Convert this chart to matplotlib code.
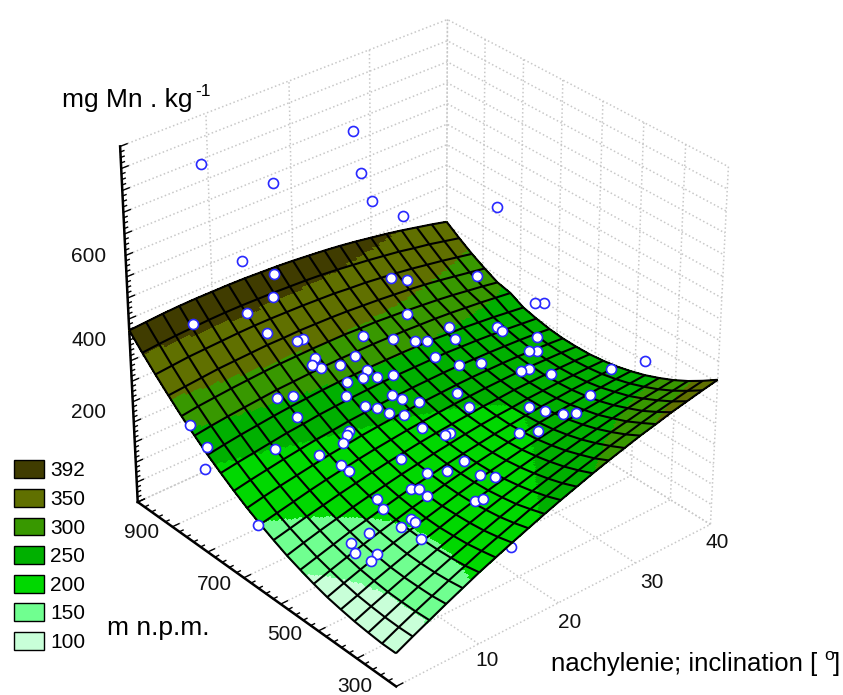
import numpy as np
import matplotlib
matplotlib.use("Agg")
import matplotlib.pyplot as plt
from matplotlib.colors import to_rgba
from matplotlib.patches import Patch

# surface grid
inclination = [0, 2, 4, 6, 8, 10, 12, 14, 16, 18, 20, 22, 24, 26, 28, 30, 32, 34, 36, 38, 40]
altitude = [300, 335, 370, 405, 440, 475, 510, 545, 580, 615, 650, 685, 720, 755, 790, 825, 860, 895, 930, 965, 1000]
mn_surface = [
    [35, 56, 76, 96, 115, 134, 151, 168, 184, 200, 215, 229, 243, 256, 268, 280, 290, 301, 310, 319, 327],
    [35, 55, 74, 92, 110, 127, 144, 159, 174, 189, 202, 215, 228, 239, 251, 261, 271, 280, 288, 296, 303],
    [38, 56, 74, 91, 107, 123, 138, 152, 166, 179, 192, 204, 215, 226, 236, 245, 253, 261, 269, 275, 281],
    [42, 59, 75, 91, 106, 121, 135, 148, 161, 173, 184, 195, 205, 214, 223, 231, 239, 246, 252, 257, 262],
    [48, 63, 79, 93, 107, 121, 133, 146, 157, 168, 178, 188, 197, 205, 213, 220, 226, 232, 237, 242, 246],
    [55, 70, 84, 98, 111, 123, 134, 145, 156, 166, 175, 183, 191, 198, 205, 211, 217, 221, 226, 229, 232],
    [65, 79, 92, 104, 116, 127, 138, 147, 157, 166, 174, 181, 188, 194, 200, 205, 209, 213, 216, 219, 221],
    [77, 89, 101, 113, 123, 133, 143, 152, 160, 168, 175, 181, 187, 192, 197, 201, 204, 207, 209, 211, 212],
    [90, 102, 113, 123, 133, 142, 150, 158, 165, 172, 178, 184, 189, 193, 196, 200, 202, 204, 205, 206, 206],
    [106, 116, 126, 135, 144, 152, 160, 167, 173, 179, 184, 188, 192, 196, 198, 201, 202, 203, 203, 203, 202],
    [123, 132, 141, 150, 158, 165, 172, 178, 183, 188, 192, 196, 199, 201, 203, 204, 205, 205, 204, 203, 201],
    [142, 151, 159, 166, 173, 180, 185, 191, 195, 199, 202, 205, 207, 209, 210, 210, 210, 209, 207, 205, 202],
    [163, 171, 178, 185, 191, 197, 201, 206, 209, 213, 215, 217, 218, 219, 219, 218, 217, 215, 213, 210, 206],
    [186, 193, 199, 205, 211, 215, 220, 223, 226, 228, 230, 231, 231, 231, 231, 229, 227, 224, 221, 217, 213],
    [210, 217, 223, 228, 233, 237, 240, 243, 245, 246, 247, 247, 247, 246, 245, 242, 240, 236, 232, 227, 222],
    [237, 243, 248, 252, 256, 260, 262, 264, 266, 267, 267, 267, 266, 265, 263, 261, 258, 254, 250, 245, 240],
    [265, 271, 275, 279, 282, 285, 287, 288, 289, 289, 289, 287, 286, 283, 280, 276, 272, 267, 261, 255, 248],
    [296, 300, 304, 308, 310, 312, 314, 314, 315, 314, 313, 311, 308, 305, 301, 297, 292, 286, 279, 272, 265],
    [328, 332, 336, 338, 340, 342, 343, 343, 342, 341, 339, 337, 333, 330, 325, 320, 314, 307, 300, 292, 284],
    [362, 366, 369, 371, 373, 374, 374, 373, 372, 370, 368, 365, 361, 356, 351, 345, 339, 331, 324, 315, 306],
    [398, 401, 404, 406, 407, 407, 407, 406, 404, 402, 399, 395, 391, 386, 380, 373, 366, 358, 349, 340, 330],
]

# measured points above the surface
pts_incl = [10.8, 16.1, 21.9, 24.3, 25.5, 26.9, 32.4, 12.9, 31.2, 31.8, 34.4, -0.9,
            17.0, 14.9, 10.8, 4.5, 11.4, 14.2, 15.0, 15.1, 14.4, 15.1, 17.1, 9.0, 10.6, 28.8, 30.3, 38.2, 27.5,
            21.5, 24.1, 26.0, 27.1, 30.4, 29.9, 35.0, 35.0, 19.2, 19.3, 26.4, 27.8, 29.9, 18.3, 19.6, 21.2, 16.6,
            15.4, 19.4, 19.9, 25.0, 21.1, 37.5, 35.2, 35.9, 32.3, 33.1, 34.2, 38.8, 24.6,
            28.8, 29.3, 30.0, 30.8, 33.9, 25.3, 26.6, 20.2, 20.7, -0.7, 0.0, 5.8, 9.8, 9.0, -0.5, 16.4, 17.2, 17.7,
            18.8, 13.1, 12.6, 11.7, 19.1, 10.0, 10.1, 14.9, 19.1, 15.6, 17.1, 18.7,
            19.4, 13.2, 13.7, 13.7, 16.0, 16.6, 10.1, 9.7, 10.7, 10.8, 9.5, 7.0, 9.7, 5.1, 4.6, 6.0, 5.0]
pts_alt = [1037, 961, 870, 902, 901, 846, 713, 982, 588, 579, 375, 777,
           987, 941, 921, 925, 880, 861, 862, 833, 827, 818, 808, 802, 795, 919, 908, 879, 849,
           840, 814, 795, 786, 796, 768, 760, 748, 813, 783, 750, 715, 699, 773, 762, 753, 779,
           758, 720, 704, 662, 683, 704, 679, 672, 642, 638, 602, 537, 623,
           552, 522, 489, 473, 498, 508, 487, 595, 594, 821, 790, 737, 766, 690, 646, 726, 712, 691,
           674, 699, 694, 686, 633, 653, 636, 601, 523, 547, 526, 476,
           450, 538, 528, 508, 432, 424, 561, 538, 487, 478, 486, 516, 440, 522, 502, 474, 470]
pts_mn = [700, 650, 780, 640, 560, 540, 590, 470, 430, 430, 380, 190,
          399, 383, 391, 417, 359, 325, 321, 289, 282, 274, 269, 261, 257, 324, 312, 271, 282,
          283, 267, 256, 251, 252, 242, 232, 229, 268, 251, 237, 225, 221, 245, 241, 237, 247,
          235, 222, 217, 210, 211, 216, 215, 213, 212, 212, 211, 221, 202,
          206, 210, 216, 221, 223, 200, 206, 189, 190, 273, 231, 202, 229, 186, 129, 220, 216, 209,
          204, 202, 199, 192, 194, 174, 168, 174, 178, 166, 170, 176,
          182, 155, 156, 153, 165, 170, 145, 138, 136, 135, 129, 119, 126, 109, 102, 105, 98]

# points under the surface, only an edge of them shows
low_incl = [16.3, 4.4, 6.3, 9.0, 15.1, 10.1]
low_alt = [348, 647, 493, 423, 548, 496]
low_mn = [100, 127, 87, 98, 142, 110]

legend_labels = ["392", "350", "300", "250", "200", "150", "100"]
band_limits = [72, 124, 196, 245, 290, 360]
band_colors = ["#c8ffd8", "#70ff90", "#00d800", "#00b000", "#389800", "#607000", "#403c00"]

x_labels = ["10", "20", "30", "40"]
x_label_px = [(487, 660), (570, 622), (652, 582), (717, 543)]
y_labels = ["900", "700", "500", "300"]
y_label_px = [(142, 532), (214, 584), (285, 634), (355, 687)]
z_labels = ["600", "400", "200"]
z_label_px = [(89, 257), (89, 340), (89, 413)]

W, H = 843, 695
plt.rcParams["font.family"] = ["Liberation Sans", "DejaVu Sans"]
plt.rcParams["grid.color"] = "#c8c8c8"
plt.rcParams["grid.linestyle"] = ":"
plt.rcParams["grid.linewidth"] = 1.1

fig = plt.figure(figsize=(W / 100, H / 100), dpi=100)
ax = fig.add_subplot(projection="3d", computed_zorder=False)
ax.set_xlim(0, 40, view_margin=0)
ax.set_ylim(300, 1000, view_margin=0)
ax.set_zlim(-50, 850, view_margin=0)
ax.view_init(31.701, -130.539)
ax.set_proj_type("persp", focal_length=0.9612)
ax.set_box_aspect((1.0179, 1, 1.0106))
ax.set_position([61.53 / W, -6.43 / H, 703.46 / W, 703.46 / H])

grid_x, grid_y = np.meshgrid(inclination, altitude)
grid_z = np.array(mn_surface, float)

# each grid cell is cut in 8 so the colour bands can end inside a cell
k = 8
fine = np.linspace(0, 20, 20 * k + 1)
i0 = np.minimum(fine.astype(int), 19)
u = (fine - i0)[:, None]
v = (fine - i0)[None, :]
fine_x, fine_y = np.meshgrid(np.interp(fine, np.arange(21), inclination), np.interp(fine, np.arange(21), altitude))
fine_z = (grid_z[np.ix_(i0, i0)] * (1 - u) * (1 - v) + grid_z[np.ix_(i0 + 1, i0)] * u * (1 - v)
          + grid_z[np.ix_(i0, i0 + 1)] * (1 - u) * v + grid_z[np.ix_(i0 + 1, i0 + 1)] * u * v)
mid = (fine_z[:-1, :-1] + fine_z[1:, :-1] + fine_z[:-1, 1:] + fine_z[1:, 1:]) / 4
face = np.array([to_rgba(c) for c in band_colors])[np.digitize(mid, band_limits)]

ax.scatter(low_incl, low_alt, low_mn, s=52, c="white", edgecolors="#2828ff", linewidths=1.2, depthshade=False, zorder=1.5)
ax.plot_surface(fine_x, fine_y, fine_z, facecolors=face, rstride=1, cstride=1, shade=False,
                linewidth=0.4, antialiased=False, zorder=2)
ax.plot_wireframe(grid_x, grid_y, grid_z, color="black", linewidth=1.5, rstride=1, cstride=1, zorder=3)
ax.scatter(pts_incl, pts_alt, pts_mn, s=52, c="white", edgecolors="#2828ff", linewidths=1.2, depthshade=False, zorder=4)

for axis in (ax.xaxis, ax.yaxis, ax.zaxis):
    axis.set_pane_color((1, 1, 1, 0))
    axis.pane.set_edgecolor((1, 1, 1, 0))
    axis.line.set_color((1, 1, 1, 0))
    axis._axinfo["tick"]["inward_factor"] = 0
    axis._axinfo["tick"]["outward_factor"] = 0
ax.set_xticks([0, 10, 20, 30, 40])
ax.set_yticks(range(300, 1001, 100))
ax.set_zticks(np.linspace(-50, 850, 18))
ax.set_xticklabels([])
ax.set_yticklabels([])
ax.set_zticklabels([])

# axis lines and their ticks point inwards, mplot3d can't do that itself
ax.plot([0, 0], [300, 1000], [-50, -50], color="black", lw=1.8, zorder=1)
ax.plot([0, 0], [1000, 1000], [-50, 850], color="black", lw=1.8, zorder=1)
for t in np.arange(300, 1001, 20):
    d = 0.45 if t % 100 else 0.8
    ax.plot([0, d], [t, t], [-50, -50], color="black", lw=1.0, zorder=1)
for i, t in enumerate(np.linspace(-50, 850, 69)):
    d = 0.4 if i % 4 else 0.8
    ax.plot([0, d], [1000, 1000], [t, t], color="black", lw=1.0, zorder=1)

for labels, places in ((x_labels, x_label_px), (y_labels, y_label_px), (z_labels, z_label_px)):
    for s, (px, py) in zip(labels, places):
        fig.text(px / W, 1 - py / H, s, ha="center", va="center", fontsize=15, color="#111111")

fig.text(62 / W, 1 - 100 / H, "mg Mn . kg", fontsize=19, va="center")
fig.text(195 / W, 1 - 91 / H, "-1", fontsize=12.5, va="center")
fig.text(107 / W, 1 - 628 / H, "m n.p.m.", fontsize=19, va="center")
fig.text(551 / W, 1 - 664 / H, "nachylenie; inclination [", fontsize=18.5, va="center")
fig.text(824 / W, 1 - 655 / H, "o", fontsize=12.5, va="center")
fig.text(833 / W, 1 - 664 / H, "]", fontsize=18.5, va="center")

handles = [Patch(facecolor=c, edgecolor="black", linewidth=1) for c in band_colors[::-1]]
fig.legend(handles, legend_labels, loc="lower left", bbox_to_anchor=(14 / W, 1 - 652 / H), frameon=False,
           fontsize=15, handlelength=1.45, handleheight=0.95, labelspacing=0.405, handletextpad=0.3,
           borderpad=0, borderaxespad=0)

fig.savefig("out.png", dpi=100)
